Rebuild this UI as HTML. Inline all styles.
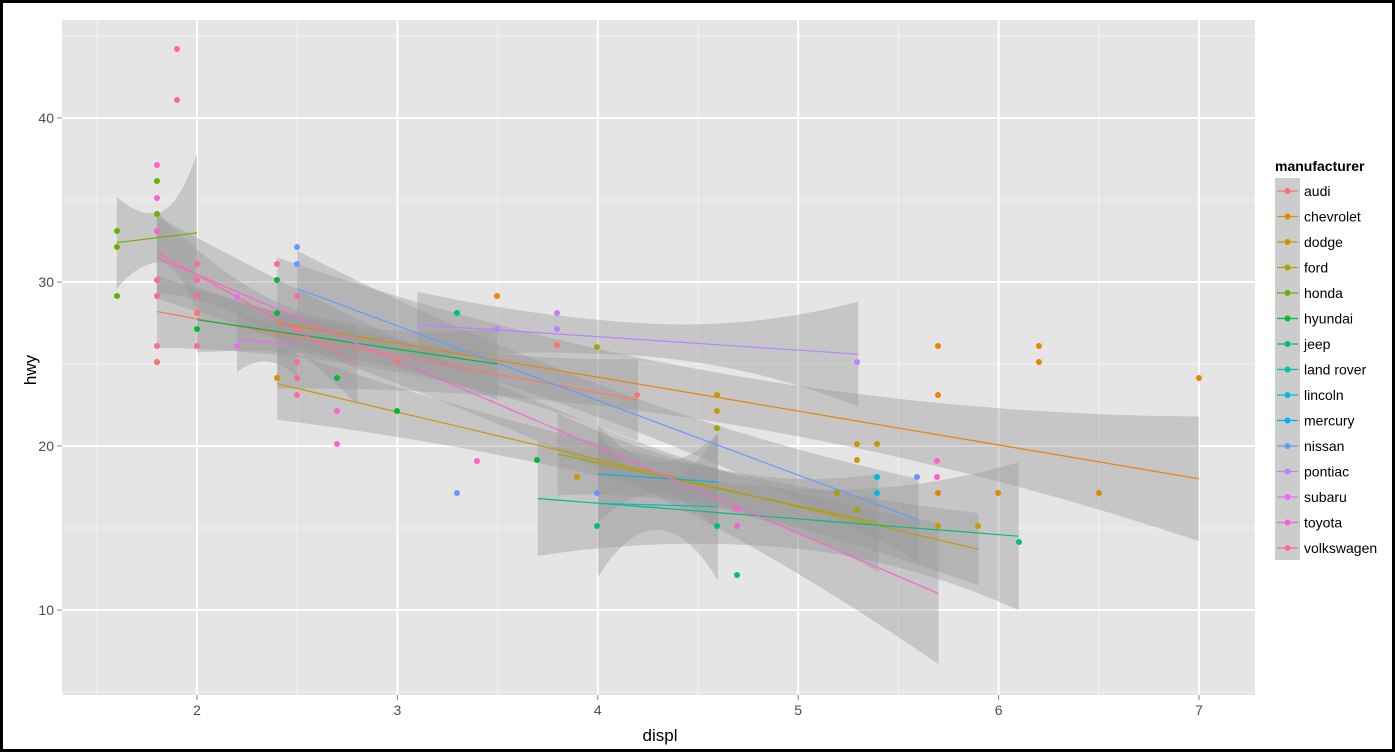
<!DOCTYPE html>
<html><head><meta charset="utf-8"><style>
html,body{margin:0;padding:0;background:#fff}
svg{display:block;font-family:"Liberation Sans",Arial,sans-serif}
</style></head><body>
<svg id="s" width="1395" height="752" xmlns="http://www.w3.org/2000/svg">
<rect x="0" y="0" width="1395" height="752" fill="#fff"/>
<rect x="1.5" y="1.5" width="1392" height="749" fill="none" stroke="#000" stroke-width="3"/>
<rect x="62" y="20" width="1193" height="675" fill="#E5E5E5"/>
<g id="grid"></g>
<g id="rib"></g>
<g id="lines"></g>
<g id="pts"></g>
<g id="axes" fill="#4D4D4D" font-size="14"></g>
<text x="660" y="741" font-size="17" text-anchor="middle" fill="#000">displ</text>
<text x="36" y="370" font-size="17" text-anchor="middle" fill="#000" transform="rotate(-90 36 370)">hwy</text>
<text x="1275" y="171" font-size="14" font-weight="bold" fill="#000">manufacturer</text>
<rect x="1275" y="178" width="25" height="382" fill="#CCCCCC"/>
<g id="leg" font-size="14" fill="#000"></g>
</svg>
<script>
var NS="http://www.w3.org/2000/svg";
function el(p,t,a,txt){var e=document.createElementNS(NS,t);for(var k in a)e.setAttribute(k,a[k]);if(txt!=null)e.textContent=txt;document.getElementById(p).appendChild(e);return e;}
function X(d){return 197+(d-2)*200.4;}
function Y(h){return 610-(h-10)*16.4;}
// grid
[1.5,2.5,3.5,4.5,5.5,6.5].forEach(function(d){el("grid","line",{x1:X(d),x2:X(d),y1:20,y2:695,stroke:"#F2F2F2","stroke-width":1});});
[5,15,25,35,45].forEach(function(h){el("grid","line",{x1:62,x2:1255,y1:Y(h),y2:Y(h),stroke:"#F2F2F2","stroke-width":1});});
[2,3,4,5,6,7].forEach(function(d){el("grid","line",{x1:X(d),x2:X(d),y1:20,y2:695,stroke:"#fff","stroke-width":2});
 el("axes","line",{x1:X(d),x2:X(d),y1:695,y2:700,stroke:"#7F7F7F"});el("axes","text",{x:X(d),y:715,"text-anchor":"middle"},""+d);});
[10,20,30,40].forEach(function(h){el("grid","line",{x1:62,x2:1255,y1:Y(h),y2:Y(h),stroke:"#fff","stroke-width":2});
 el("axes","line",{x1:57,x2:62,y1:Y(h),y2:Y(h),stroke:"#7F7F7F"});el("axes","text",{x:54,y:Y(h)+5,"text-anchor":"end"},""+h);});
var cols={audi:"#F8766D",chevrolet:"#E58700",dodge:"#C99800",ford:"#A3A500",honda:"#6BB100",hyundai:"#00BA38",jeep:"#00BF7D","land rover":"#00C0AF",lincoln:"#00BCD8",mercury:"#00B0F6",nissan:"#619CFF",pontiac:"#B983FF",subaru:"#E76BF3",toyota:"#FD61D1",volkswagen:"#FF67A4"};
// fits: [name,x0,x1,y0,y1,w0,wm,w1]
var fits=[
["audi",1.8,4.2,28.2,22.8,2.2,1.0,2.5],
["chevrolet",2.4,7.0,27.5,18.0,4,1.5,3.8],
["dodge",2.4,5.9,23.8,13.7,2.2,1.0,2.2],
["ford",3.8,5.4,19.5,15.3,2.5,1.2,3.0],
["honda",1.6,2.0,32.4,33.0,2.8,1.5,4.8],
["hyundai",2.0,3.5,27.7,25.0,2.0,1.0,2.2],
["jeep",3.7,6.1,16.8,14.5,3.5,1.8,4.5],
["land rover",4.0,4.6,16.5,16.3,4.5,1.5,4.5],
["mercury",4.0,4.6,18.3,17.8,3.0,1.0,3.0],
["nissan",2.5,5.6,29.6,15.5,2.3,1.0,2.5],
["pontiac",3.1,5.3,27.4,25.6,2.0,1.0,3.2],
["subaru",2.2,2.5,26.5,26.2,2.0,1.2,2.0],
["toyota",1.8,5.7,31.5,11.0,2.5,1.2,4.3],
["volkswagen",1.8,2.8,31.8,25.0,2.5,1.0,2.5]];
fits.forEach(function(f){var n=20,top=[],bot=[],ln=[];
 for(var i=0;i<=n;i++){var t=i/n,d=f[1]+(f[2]-f[1])*t,h=f[3]+(f[4]-f[3])*t;
  var w=f[6]+(t<0.5?(f[5]-f[6])*Math.pow(1-2*t,2):(f[7]-f[6])*Math.pow(2*t-1,2));
  top.push(X(d).toFixed(1)+","+Y(h+w).toFixed(1));bot.unshift(X(d).toFixed(1)+","+Y(h-w).toFixed(1));ln.push(X(d).toFixed(1)+","+Y(h).toFixed(1));}
 el("rib","polygon",{points:top.concat(bot).join(" "),fill:"#999999","fill-opacity":0.4});
 el("lines","polyline",{points:ln.join(" "),fill:"none",stroke:cols[f[0]],"stroke-width":1.2});
});
var P={"#FF67A4":[[177,49],[177,100],[157,280],[157,296],[277,264],[277,280],[297,296],[297,330],[297,362],[297,378],[297,395],[197,264],[197,280],[197,296],[197,313],[157,346],[157,362],[197,346]],
"#FD61D1":[[157,165],[157,198],[157,231],[337,411],[337,444],[477,461],[737,509],[737,526],[937,477],[937,461]],
"#E76BF3":[[237,297],[237,346]],
"#6BB100":[[117,231],[117,247],[117,296],[157,181],[157,214]],
"#00BA38":[[197,329],[277,280],[277,313],[337,378],[397,411],[537,460]],
"#00BF7D":[[597,526],[737,575],[717,526],[1019,542],[457,313]],
"#E58700":[[497,296],[938,346],[938,395],[1039,346],[1039,362],[1199,378],[1099,493],[998,493],[938,493]],
"#C99800":[[277,378],[577,477],[857,444],[857,460],[877,444],[938,526],[978,526],[717,395],[717,411]],
"#B983FF":[[557,313],[557,329],[857,362],[497,329]],
"#619CFF":[[297,247],[297,264],[457,493],[917,477],[597,493]],
"#00BCD8":[[877,477],[877,493]],
"#A3A500":[[837,493],[857,510],[597,347],[717,428]],
"#F8766D":[[157,362],[197,313],[397,362],[637,395],[557,345]]};
for(var c in P)P[c].forEach(function(p){el("pts","circle",{cx:p[0],cy:p[1],r:3,fill:c});});
var names=Object.keys(cols);
names.forEach(function(n,i){var y=191+i*25.5;
 el("leg","line",{x1:1277,x2:1298,y1:y,y2:y,stroke:cols[n],"stroke-width":1.2});
 el("leg","circle",{cx:1287.5,cy:y,r:3,fill:cols[n]});
 el("leg","text",{x:1304,y:y+5},n);});
</script>
</body></html>
